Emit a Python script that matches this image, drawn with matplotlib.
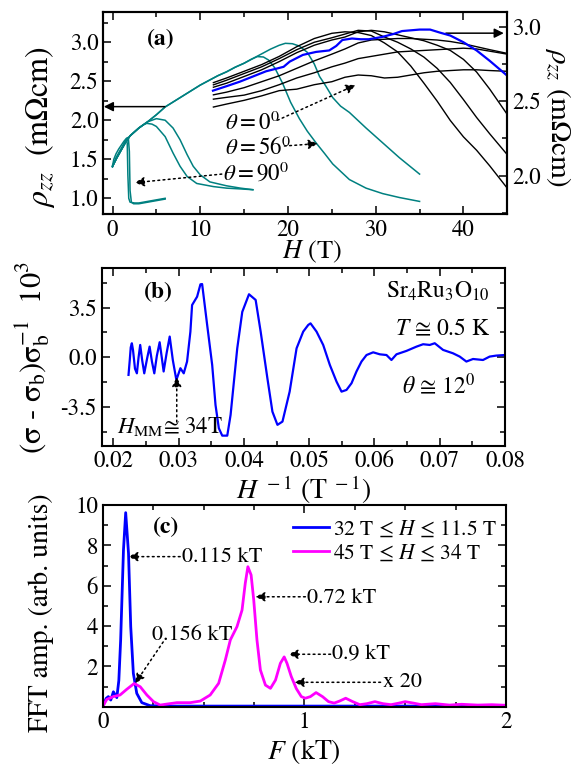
import numpy as np
import matplotlib
matplotlib.use('Agg')
import matplotlib.pyplot as plt
from matplotlib.ticker import MultipleLocator, FormatStrFormatter, FixedLocator

plt.rcParams['font.family'] = ['STIXGeneral', 'DejaVu Serif']
plt.rcParams['mathtext.fontset'] = 'stix'
plt.rcParams['axes.unicode_minus'] = False

# ---------------- Panel (a) data ----------------
# teal curves (left axis)
H_t0a = [0, 0.5, 1, 1.5, 2, 3, 4, 5, 6, 7, 8, 9, 10, 11, 12, 13, 14, 15, 15.8, 16.5, 17.2, 17.8, 18.5, 19.4, 20.3, 21.3, 22.2, 23.2, 24.2, 25.1, 27, 28.9, 30.8, 32.7, 35]
R_t0a = [1.41, 1.52, 1.62, 1.72, 1.80, 1.90, 1.98, 2.07, 2.17, 2.24, 2.31, 2.38, 2.45, 2.51, 2.57, 2.62, 2.68, 2.73, 2.78, 2.815, 2.81, 2.77, 2.67, 2.47, 2.23, 2.02, 1.86, 1.71, 1.57, 1.44, 1.24, 1.13, 1.06, 1.01, 0.96]
H_t0b = [0, 0.5, 1, 1.5, 2, 3, 4, 5, 6, 7, 8, 9, 10, 11, 12, 13, 14, 15, 16, 17, 18, 19, 19.7, 20.5, 21.3, 22.2, 23.0, 23.6, 24.3, 25.1, 26, 27, 28.9, 30.8, 32.7, 35]
R_t0b = [1.41, 1.52, 1.62, 1.72, 1.80, 1.90, 1.98, 2.07, 2.17, 2.24, 2.31, 2.38, 2.45, 2.51, 2.57, 2.62, 2.68, 2.73, 2.79, 2.85, 2.91, 2.96, 2.985, 2.98, 2.95, 2.87, 2.72, 2.56, 2.44, 2.29, 2.18, 2.10, 1.90, 1.71, 1.52, 1.31]
H_t56a = [0, 0.5, 1, 1.5, 2, 3, 3.5, 3.9, 4.5, 5, 6, 6.9, 7.7, 8.5, 9.6, 11.5, 13, 14.6, 16]
R_t56a = [1.41, 1.52, 1.62, 1.72, 1.80, 1.90, 1.94, 1.96, 1.95, 1.92, 1.79, 1.58, 1.41, 1.28, 1.19, 1.15, 1.13, 1.12, 1.11]
H_t56b = [0, 0.5, 1, 1.5, 2, 3, 4, 4.5, 5, 6, 6.9, 7.7, 8.5, 9.2, 10, 11.1, 13, 14.6, 16]
R_t56b = [1.41, 1.52, 1.62, 1.72, 1.80, 1.90, 1.98, 2.0, 2.02, 2.0, 1.90, 1.75, 1.56, 1.41, 1.30, 1.21, 1.16, 1.13, 1.11]
H_t90a = [0, 0.2, 0.4, 0.7, 1.0, 1.3, 1.5, 1.6, 1.68, 1.75, 1.85, 2.0, 2.5, 3, 4, 5, 6]
R_t90a = [1.40, 1.46, 1.52, 1.58, 1.64, 1.70, 1.74, 1.76, 1.70, 1.30, 1.00, 0.95, 0.94, 0.94, 0.96, 0.98, 1.00]
H_t90b = [0, 0.15, 0.4, 0.7, 1.0, 1.3, 1.6, 1.8, 1.92, 2.0, 2.15, 2.4, 3, 4, 5, 6]
R_t90b = [1.42, 1.50, 1.57, 1.63, 1.68, 1.73, 1.77, 1.78, 1.60, 1.10, 0.95, 0.93, 0.93, 0.95, 0.97, 0.99]

# black curves (right axis)
H_blk = [11.5, 13, 15, 17, 19, 21, 23, 25, 26.5, 28, 29.5, 31, 32.5, 34, 35.5, 37, 38.5, 40, 41.5, 43, 45]
R_c1 = [2.46, 2.48, 2.505, 2.535, 2.57, 2.58, 2.61, 2.63, 2.66, 2.675, 2.67, 2.655, 2.66, 2.675, 2.69, 2.70, 2.705, 2.71, 2.71, 2.705, 2.70]
R_c2 = [2.513, 2.525, 2.54, 2.57, 2.61, 2.655, 2.69, 2.73, 2.755, 2.785, 2.80, 2.815, 2.83, 2.835, 2.84, 2.845, 2.85, 2.855, 2.85, 2.835, 2.815]
R_c3 = [2.542, 2.56, 2.59, 2.63, 2.67, 2.72, 2.77, 2.815, 2.85, 2.89, 2.91, 2.915, 2.92, 2.92, 2.915, 2.91, 2.90, 2.885, 2.865, 2.845, 2.82]
R_f1 = [2.624, 2.655, 2.70, 2.745, 2.80, 2.865, 2.92, 2.955, 2.965, 2.96, 2.94, 2.89, 2.83, 2.735, 2.62, 2.50, 2.37, 2.26, 2.17, 2.065, 1.915]
R_f2 = [2.609, 2.64, 2.685, 2.73, 2.785, 2.845, 2.895, 2.925, 2.95, 2.975, 2.97, 2.93, 2.895, 2.85, 2.795, 2.72, 2.625, 2.51, 2.39, 2.28, 2.14]
R_f3 = [2.593, 2.62, 2.665, 2.71, 2.765, 2.825, 2.875, 2.91, 2.93, 2.965, 2.975, 2.965, 2.945, 2.925, 2.905, 2.875, 2.84, 2.78, 2.695, 2.58, 2.41]
H_blue = [11.45, 13, 14.5, 16, 17.5, 18.5, 19.5, 20.2, 21.7, 23.2, 24.7, 25.5, 26.2, 27.3, 28.3, 29.2, 30.7, 32, 33, 34, 35, 36.2, 37.3, 38.5, 40, 41.5, 43, 44, 45]
R_blue = [2.570, 2.60, 2.63, 2.665, 2.70, 2.715, 2.73, 2.765, 2.81, 2.83, 2.84, 2.87, 2.91, 2.92, 2.915, 2.915, 2.93, 2.95, 2.97, 2.975, 2.98, 2.98, 2.96, 2.94, 2.895, 2.84, 2.77, 2.72, 2.67]

# ---------------- Panel (b) data ----------------
invH = [0.02231, 0.02250, 0.02265, 0.02282, 0.02300, 0.02330, 0.02359, 0.02385, 0.02410, 0.02440,
        0.02472, 0.02515, 0.02554, 0.02590, 0.02626, 0.02665, 0.02708, 0.02740, 0.02769, 0.02815,
        0.02862, 0.02910, 0.02964, 0.03026, 0.03077, 0.03128, 0.03179, 0.03205, 0.03282, 0.03333,
        0.03359, 0.03436, 0.03513, 0.03564, 0.03615, 0.03667, 0.03744, 0.03795, 0.03897, 0.03974,
        0.04077, 0.04179, 0.04256, 0.04359, 0.04436, 0.04513, 0.04590, 0.04700, 0.04806, 0.04908,
        0.04985, 0.05020, 0.05112, 0.05214, 0.05316, 0.05418, 0.05495, 0.05571, 0.05648, 0.05724,
        0.05801, 0.05878, 0.05980, 0.06082, 0.06184, 0.06260, 0.06337, 0.06490, 0.06643, 0.06745,
        0.06847, 0.06923, 0.07051, 0.07204, 0.07306, 0.07408, 0.07510, 0.07663, 0.07765, 0.07867,
        0.07995]
dsig = [-1.24, -0.20, 0.70, 0.99, 0.50, -0.80, -1.13, 0.00, 0.87, -0.20,
        -1.13, -0.10, 0.75, -0.30, -1.13, 0.10, 1.06, 0.00, -1.00, 0.30,
        1.46, -0.20, -1.60, -0.77, -1.13, -0.30, 1.80, 3.68, 4.27, 5.14,
        5.16, 2.28, -0.54, -3.36, -5.00, -5.52, -5.52, -4.06, 0.63, 3.20,
        4.44, 4.04, 1.80, -1.48, -3.83, -4.76, -4.53, -2.42, 0.63, 1.81,
        2.28, 2.39, 1.81, 0.87, -0.54, -1.71, -2.42, -2.30, -1.83, -1.00,
        -0.30, 0.16, 0.35, 0.21, 0.16, -0.19, 0.21, 0.45, 0.75, 0.92,
        0.87, 0.99, 0.52, 0.28, 0.05, -0.30, -0.12, -0.19, 0.05, 0.12,
        0.16]

# ---------------- Panel (c) data ----------------
F_blue = [0, 0.017, 0.028, 0.040, 0.053, 0.070, 0.080, 0.089, 0.103, 0.114, 0.128, 0.139, 0.152, 0.169, 0.194, 0.235, 0.318, 0.5, 0.75, 1.0, 1.25, 1.5, 1.75, 2.0]
A_blue = [0, 0.41, 0.50, 0.33, 0.74, 0.45, 1.30, 3.30, 7.77, 9.62, 7.60, 3.97, 1.65, 0.66, 0.20, 0.05, 0.03, 0.03, 0.03, 0.03, 0.03, 0.03, 0.03, 0.03]
F_mag = [0, 0.02, 0.053, 0.086, 0.119, 0.156, 0.186, 0.219, 0.252, 0.285, 0.318, 0.368, 0.434, 0.484, 0.533,
         0.575, 0.608, 0.633, 0.666, 0.691, 0.707, 0.72, 0.736, 0.749, 0.765, 0.782, 0.807, 0.832, 0.857,
         0.881, 0.9, 0.914, 0.935, 0.96, 0.985, 1.005, 1.03, 1.058, 1.09, 1.12, 1.148, 1.175, 1.205, 1.24,
         1.275, 1.31, 1.35, 1.39, 1.43, 1.47, 1.5, 1.54, 1.58, 1.65, 1.72, 1.78, 1.86, 1.93, 2.0]
A_mag = [0, 0.36, 0.50, 0.58, 0.86, 1.15, 0.99, 0.58, 0.25, 0.08, 0.13, 0.20, 0.20, 0.28, 0.58,
         1.16, 2.31, 3.31, 3.97, 4.79, 6.12, 6.94, 6.53, 5.29, 3.31, 1.82, 1.07, 0.91, 1.32,
         2.15, 2.47, 2.15, 1.50, 0.90, 0.50, 0.42, 0.50, 0.70, 0.50, 0.25, 0.18, 0.28, 0.42, 0.25,
         0.10, 0.15, 0.25, 0.15, 0.10, 0.18, 0.25, 0.18, 0.10, 0.15, 0.08, 0.12, 0.08, 0.10, 0.07]
legend_labels = ['32 T ≤ $H$ ≤ 11.5 T', '45 T ≤ $H$ ≤ 34 T']

TEAL = '#008080'
TICK = 16.5

fig = plt.figure(figsize=(5.77, 7.66), dpi=100)


def style(ax, right=True, top=True):
    for s in ax.spines.values():
        s.set_linewidth(1.5)
    ax.tick_params(which='both', direction='in', top=top, right=right, labelsize=TICK, width=1.1)
    ax.tick_params(which='major', length=6)
    ax.tick_params(which='minor', length=3.5)


def darrow(ax, xy_tip, xy_from, dotted=True):
    ax.annotate('', xy=xy_tip, xytext=xy_from,
                arrowprops=dict(arrowstyle='-|>', color='k', lw=1.1,
                                linestyle=(0, (1.2, 2.2)) if dotted else '-',
                                mutation_scale=14, shrinkA=0, shrinkB=0))

# ================= Panel (a) =================
axa = fig.add_axes([103.3/577, 1-214.3/766, 404/577, 202.6/766])
axa2 = axa.twinx()
for H, R in [(H_t90a, R_t90a), (H_t90b, R_t90b), (H_t56a, R_t56a), (H_t56b, R_t56b), (H_t0a, R_t0a), (H_t0b, R_t0b)]:
    axa.plot(H, R, color=TEAL, lw=1.1)
for R in [R_c1, R_c2, R_c3, R_f1, R_f2, R_f3]:
    axa2.plot(H_blk, R, color='k', lw=1.0)
axa2.plot(H_blue, R_blue, color='#0000ff', lw=1.6)

axa.set_xlim(-1.05, 45)
axa.set_ylim(0.795, 3.39)
axa2.set_ylim(1.74, 3.10)
style(axa, right=False, top=True)
style(axa2, right=True, top=False)
axa2.tick_params(which='both', left=False)
axa.xaxis.set_major_locator(MultipleLocator(10))
axa.xaxis.set_minor_locator(MultipleLocator(5))
axa.yaxis.set_major_locator(MultipleLocator(0.5))
axa.yaxis.set_minor_locator(MultipleLocator(0.25))
axa.yaxis.set_major_formatter(FormatStrFormatter('%.1f'))
axa2.yaxis.set_major_locator(MultipleLocator(0.5))
axa2.yaxis.set_minor_locator(MultipleLocator(0.25))
axa2.yaxis.set_major_formatter(FormatStrFormatter('%.1f'))

axa.set_xlabel('$H$ (T)', fontsize=19, va='center')
axa.xaxis.set_label_coords(0.517, -0.185)
axa.set_ylabel(r'$\rho_{zz}$  (m$\Omega$cm)', fontsize=23, va='center', ha='center')
axa.yaxis.set_label_coords(-0.157, 0.43)
axa2.set_ylabel(r'$\rho_{zz}$ (m$\Omega$cm)', fontsize=21, rotation=270, va='center', ha='center')
axa2.yaxis.set_label_coords(1.125, 0.48)

axa.text(0.143, 0.861, '(a)', transform=axa.transAxes, fontsize=17, fontweight='bold', ha='center', va='center')
axa.text(0.302, 0.451, r'$\theta = 0^0$', transform=axa.transAxes, fontsize=16.5, ha='left', va='center')
axa.text(0.302, 0.327, r'$\theta = 56^0$', transform=axa.transAxes, fontsize=16.5, ha='left', va='center')
axa.text(0.296, 0.204, r'$\theta = 90^0$', transform=axa.transAxes, fontsize=16.5, ha='left', va='center')

darrow(axa, (-0.99, 2.174), (5.96, 2.174), dotted=False)
darrow(axa, (44.6, 3.115), (38.0, 3.115), dotted=False)
darrow(axa, (27.7, 2.45), (18.8, 2.0))
darrow(axa, (23.4, 1.70), (19.6, 1.67))
darrow(axa, (2.54, 1.20), (12.45, 1.31))

# ================= Panel (b) =================
axb = fig.add_axes([101.7/577, 1-446/766, 403.3/577, 177.7/766])
axb.plot(invH, dsig, color='#0000ff', lw=1.6)
axb.set_xlim(0.0182, 0.08)
axb.set_ylim(-6.25, 6.27)
style(axb)
axb.xaxis.set_major_locator(MultipleLocator(0.01))
axb.xaxis.set_minor_locator(MultipleLocator(0.005))
axb.xaxis.set_major_formatter(FormatStrFormatter('%.2f'))
axb.yaxis.set_major_locator(FixedLocator([-3.5, 0.0, 3.5]))
axb.yaxis.set_minor_locator(FixedLocator([-5.25, -1.75, 1.75, 5.25]))
axb.yaxis.set_major_formatter(FormatStrFormatter('%.1f'))
axb.set_xlabel('$H^{\\mathregular{\\ -1}}$ (T$^{\\mathregular{\\ -1}}$)', fontsize=20, va='center')
axb.xaxis.set_label_coords(0.5, -0.245)
axb.set_ylabel('(σ - σ$_\\mathregular{b}$)σ$_\\mathregular{b}^\\mathregular{-1}$  10$^\\mathregular{3}$',
               fontsize=22, va='center', ha='center')
axb.yaxis.set_label_coords(-0.17, 0.5)

axb.text(0.14, 0.861, '(b)', transform=axb.transAxes, fontsize=17, fontweight='bold', ha='center', va='center')
axb.text(0.963, 0.833, 'Sr$_4$Ru$_3$O$_{10}$', transform=axb.transAxes, fontsize=17, ha='right', va='baseline')
axb.text(0.727, 0.621, '$T$ ≅ 0.5 K', transform=axb.transAxes, fontsize=17, ha='left', va='baseline')
axb.text(0.745, 0.297, r'$\theta$ ≅ 12$^0$', transform=axb.transAxes, fontsize=17, ha='left', va='baseline')
axb.text(0.038, 0.071, '$H_{\\mathregular{MM}}$≅ 34T', transform=axb.transAxes, fontsize=16.5, ha='left', va='baseline')
darrow(axb, (0.0297, -1.39), (0.0297, -4.56))

# ================= Panel (c) =================
axc = fig.add_axes([102.7/577, 1-706.7/766, 403.3/577, 201.7/766])
axc.plot(F_blue, A_blue, color='#0000ff', lw=2.0, label=legend_labels[0])
axc.plot(F_mag, A_mag, color='#ff00ff', lw=2.0, label=legend_labels[1])
axc.set_xlim(0, 2)
axc.set_ylim(0, 10)
style(axc)
axc.xaxis.set_major_locator(MultipleLocator(1))
axc.xaxis.set_minor_locator(MultipleLocator(0.25))
axc.yaxis.set_major_locator(FixedLocator([2, 4, 6, 8, 10]))
axc.yaxis.set_minor_locator(MultipleLocator(1))
axc.set_xlabel('$F$ (kT)', fontsize=20, va='center')
axc.xaxis.set_label_coords(0.5, -0.222)
axc.set_ylabel('FFT amp. (arb. units)', fontsize=20, va='center', ha='center')
axc.yaxis.set_label_coords(-0.153, 0.467)
axc.legend(loc='upper left', bbox_to_anchor=(0.4726, 0.93), frameon=False, fontsize=15.5,
           handlelength=1.65, handletextpad=0.2, labelspacing=0.15, borderpad=0, borderaxespad=0)

axc.text(0.157, 0.886, '(c)', transform=axc.transAxes, fontsize=17, fontweight='bold', ha='center', va='center')
axc.text(0.197, 0.719, '0.115 kT', transform=axc.transAxes, fontsize=16, ha='left', va='baseline')
axc.text(0.1225, 0.331, '0.156 kT', transform=axc.transAxes, fontsize=16, ha='left', va='baseline')
axc.text(0.5066, 0.513, '0.72 kT', transform=axc.transAxes, fontsize=16, ha='left', va='baseline')
axc.text(0.569, 0.235, '0.9 kT', transform=axc.transAxes, fontsize=16, ha='left', va='baseline')
axc.text(0.695, 0.099, 'x 20', transform=axc.transAxes, fontsize=16, ha='left', va='baseline')
darrow(axc, (0.127, 7.44), (0.384, 7.44))
darrow(axc, (0.161, 1.16), (0.30, 3.21))
darrow(axc, (0.757, 5.45), (1.005, 5.45))
darrow(axc, (0.921, 2.60), (1.13, 2.60))
darrow(axc, (0.951, 1.21), (1.378, 1.21))

fig.savefig('out.png', dpi=100)
